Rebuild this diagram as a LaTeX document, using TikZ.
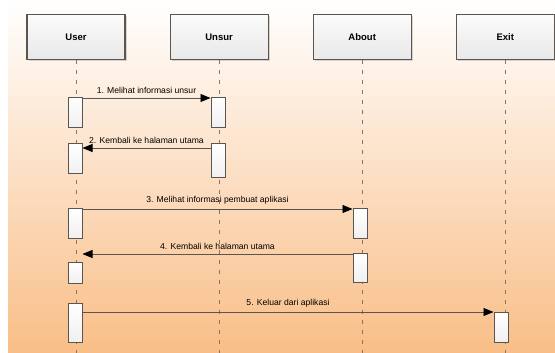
\documentclass[tikz,border=0pt]{standalone}
\usepackage{fontspec}
\setmainfont{Liberation Sans}
\usetikzlibrary{positioning, arrows.meta, shadows}
\definecolor{bgorange}{RGB}{249,190,135}
\definecolor{bgmid}{RGB}{253,224,192}
\definecolor{linegray}{RGB}{90,85,80}
\definecolor{dashbrown}{RGB}{140,115,95}

\begin{document}
\begin{tikzpicture}[x=1pt,y=-1pt,node distance=44pt,
  obj/.style={draw=linegray, line width=1.1pt, top color=gray!3, bottom color=gray!18,
    minimum width=98pt, minimum height=45pt, font=\fontsize{9.5}{11}\selectfont\bfseries,
    drop shadow={opacity=0.3,shadow xshift=1.5pt,shadow yshift=-1.5pt}},
  act/.style={draw=linegray, line width=1pt, top color=white, bottom color=gray!12,
    minimum width=14pt, inner sep=0pt, anchor=north},
  lifeline/.style={dash pattern=on 4pt off 6pt, draw=dashbrown, line width=0.8pt},
  msg/.style={draw=linegray, line width=0.8pt, -{Triangle[length=10pt,width=8pt,color=black]}},
  lbl/.style={font=\fontsize{8.6}{10}\selectfont, above=1pt, midway}]

    \useasboundingbox (0,0) rectangle (555,353);
    \fill[top color=white, middle color=bgmid, bottom color=bgorange] (8,0) rectangle (555,353);

    % objects
    \node[obj] (user) at (76,37) {User};
    \node[obj, right=of user] (unsur) {Unsur};
    \node[obj, right=of unsur] (about) {About};
    \node[obj, right=of about] (exit) {Exit};

    \coordinate (bottom) at (0,353);
    \foreach \n in {user,unsur,about,exit}
        \draw[lifeline] (\n.south) -- (\n.south |- bottom);

    % activations
    \node[act, minimum height=30pt] (u1) at (75,97) {};
    \node[act, minimum height=30pt] (s1) at (218,97) {};
    \node[act, minimum height=30pt] (u2) at (75,143) {};
    \node[act, minimum height=34pt] (s2) at (218,143) {};
    \node[act, minimum height=30pt] (u3) at (75,208) {};
    \node[act, minimum height=30pt] (a3) at (360,208) {};
    \node[act, minimum height=21pt] (u4) at (75,262) {};
    \node[act, minimum height=29pt] (a4) at (360,253) {};
    \node[act, minimum height=39pt] (u5) at (75,303) {};
    \node[act, minimum height=30pt] (e5) at (501,312) {};

    % messages
    \draw[msg] ([yshift=-1pt]u1.north east) -- node[lbl] {1. Melihat informasi unsur} ([yshift=-1pt]s1.north west);
    \draw[msg] ([yshift=-5pt]s2.north west) -- node[lbl] {2. Kembali ke halaman utama} ([yshift=-5pt]u2.north east);
    \draw[msg] ([yshift=-1pt]u3.north east) -- node[lbl] {3. Melihat informasi pembuat aplikasi} ([yshift=-1pt]a3.north west);
    \coordinate (m4) at ([yshift=-1pt]a4.north west);
    \draw[msg] (m4) -- node[lbl] {4. Kembali ke halaman utama} (m4 -| u4.east);
    \draw[msg] (u5.east |- e5.north west) -- node[lbl] {5. Keluar dari aplikasi} (e5.north west);

\end{tikzpicture}
\end{document}
